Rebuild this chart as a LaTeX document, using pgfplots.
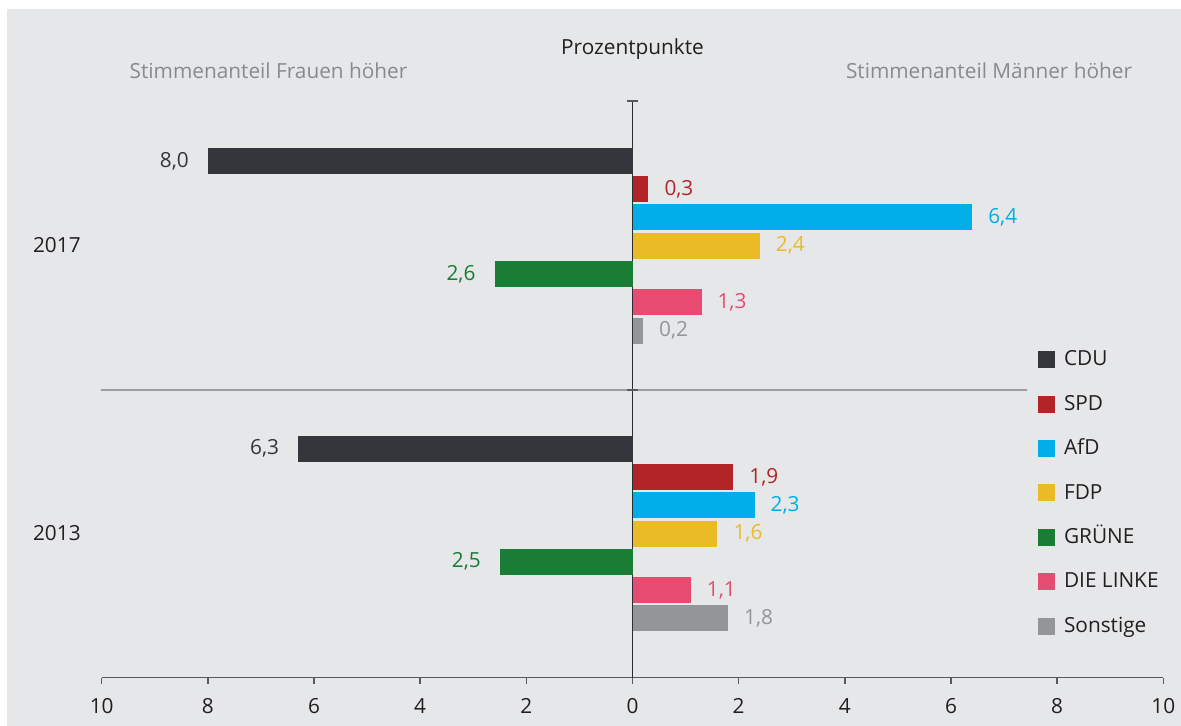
\documentclass[border=0pt]{standalone}
\usepackage{fontspec}
\setmainfont{Open Sans}
\usepackage{pgfplots}
\pgfplotsset{compat=1.18}
\definecolor{bg}{HTML}{E6E7E8}
\definecolor{cdu}{HTML}{33363A}
\definecolor{spd}{HTML}{B22428}
\definecolor{afd}{HTML}{00AEE8}
\definecolor{fdp}{HTML}{EBBB25}
\definecolor{gruene}{HTML}{197D35}
\definecolor{linke}{HTML}{E84B72}
\definecolor{sonst}{HTML}{939598}
\definecolor{axisgrey}{HTML}{58595B}
\definecolor{ylinecol}{HTML}{2D2E30}
\definecolor{sepgrey}{HTML}{9B9D9F}
\definecolor{headgrey}{HTML}{898A8C}
\definecolor{textcol}{HTML}{231F20}
\newcommand{\fs}{\fontsize{10.4}{12.5}\selectfont}
\pgfplotsset{
  pbar/.style={xbar, bar width=26, bar shift=0pt, draw=none, fill=#1,
    nodes near coords, point meta=explicit symbolic,
    every node near coord/.append style={anchor=west, xshift=4.5pt, text=#1, font=\fs},
    legend image code/.code={\fill[##1] (0pt,-4.1pt) rectangle (8.5pt,4.4pt);}},
  nbar/.style={xbar, bar width=26, bar shift=0pt, draw=none, fill=#1,
    nodes near coords, point meta=explicit symbolic,
    every node near coord/.append style={anchor=east, xshift=-6pt, text=#1, font=\fs},
    legend image code/.code={\fill[##1] (0pt,-4.1pt) rectangle (8.5pt,4.4pt);}},
}
\begin{document}
\begin{tikzpicture}[font=\fs]
\fill[white] (0,0) rectangle (590.5pt,-363pt);
\fill[bg] (3.5pt,-4.5pt) rectangle (590.5pt,-363pt);
\begin{axis}[
  at={(316.25pt,-194.675pt)}, anchor=center,
  scale only axis, width=530.8pt, height=288.35pt,
  xmin=-10, xmax=10, ymin=-677.7, ymax=-101,
  clip=false,
  axis x line=bottom, axis y line=center,
  x axis line style={-, draw=axisgrey, line width=0.75pt},
  y axis line style={-, draw=ylinecol, line width=0.8pt},
  xtick={-10,-8,...,10}, xticklabels={10,8,6,4,2,0,2,4,6,8,10},
  ytick=\empty,
  hide obscured x ticks=false,
  tick align=outside, major tick length=3pt,
  x tick style={draw=axisgrey, line width=0.75pt},
  tick label style={font=\fs, text=textcol},
  xticklabel style={yshift=-4pt},
  /pgf/number format/assume math mode=true,
  legend style={at={(axis cs:7.64,-349.9)}, anchor=north west, draw=none, fill=none,
    inner sep=0pt, outer sep=0pt, row sep=12.2pt,
    nodes={inner sep=0pt, text height=8pt, text depth=2pt, text=textcol, font=\fs},
    /tikz/every odd column/.append style={column sep=4.5pt}},
  legend cell align=left,
]
% 2017
\addplot[nbar=cdu] coordinates {(-8.0,-160.9) [8,0]};
\addlegendentry{CDU}
\addplot[pbar=spd] coordinates {(0.3,-189.2) [0,3]};
\addlegendentry{SPD}
\addplot[pbar=afd] coordinates {(6.4,-217.5) [6,4]};
\addlegendentry{AfD}
\addplot[pbar=fdp] coordinates {(2.4,-245.8) [2,4]};
\addlegendentry{FDP}
\addplot[nbar=gruene] coordinates {(-2.6,-274.1) [2,6]};
\addlegendentry{GRÜNE}
\addplot[pbar=linke] coordinates {(1.3,-302.4) [1,3]};
\addlegendentry{DIE LINKE}
\addplot[pbar=sonst] coordinates {(0.2,-330.7) [0,2]};
\addlegendentry{Sonstige}
% 2013
\addplot[nbar=cdu, forget plot] coordinates {(-6.3,-448.6) [6,3]};
\addplot[pbar=spd, forget plot] coordinates {(1.9,-476.9) [1,9]};
\addplot[pbar=afd, forget plot] coordinates {(2.3,-505.2) [2,3]};
\addplot[pbar=fdp, forget plot] coordinates {(1.6,-533.5) [1,6]};
\addplot[nbar=gruene, forget plot] coordinates {(-2.5,-561.8) [2,5]};
\addplot[pbar=linke, forget plot] coordinates {(1.1,-590.1) [1,1]};
\addplot[pbar=sonst, forget plot] coordinates {(1.8,-618.4) [1,8]};
% decorations
\draw[sepgrey, line width=0.75pt] (axis cs:-10.01,-390) -- (axis cs:7.43,-390);
\draw[axisgrey, line width=0.75pt] (axis cs:-0.11,-101) -- (axis cs:0.11,-101);
\draw[axisgrey, line width=0.9pt] (axis cs:-0.1,-390) -- (axis cs:0.1,-390);
\node[anchor=base, inner sep=0pt, text=textcol] at (axis cs:0,-54.3) {Prozentpunkte};
\node[anchor=base west, inner sep=0pt, text=headgrey] at (axis cs:-9.48,-78.3) {Stimmenanteil Frauen höher};
\node[anchor=base east, inner sep=0pt, text=headgrey] at (axis cs:9.42,-78.3) {Stimmenanteil Männer höher};
\node[anchor=base west, inner sep=0pt, text=textcol] at (axis cs:-11.30,-252.3) {2017};
\node[anchor=base west, inner sep=0pt, text=textcol] at (axis cs:-11.30,-540.6) {2013};
\end{axis}
\pgfresetboundingbox
\path[use as bounding box] (0,0) rectangle (590.5pt,-363pt);
\end{tikzpicture}
\end{document}
